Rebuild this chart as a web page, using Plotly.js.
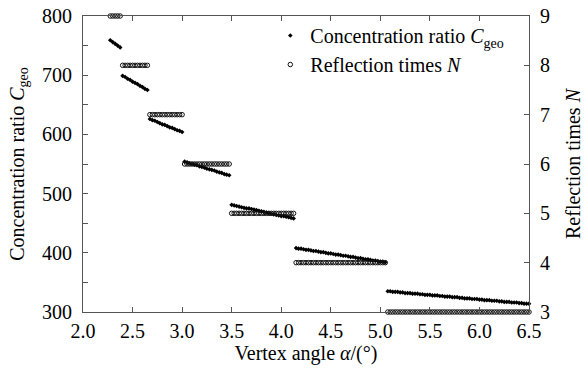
<!DOCTYPE html>
<html>
<head>
<meta charset="utf-8">
<script src="https://cdn.plot.ly/plotly-3.0.1.min.js"></script>
<style>html,body{margin:0;padding:0;background:#fff}#chart{width:585px;height:372px}</style>
</head>
<body>
<div id="chart"></div>
<script>
// Vertex angle alpha (degrees)
const vertexAngle = [
  2.275, 2.3, 2.325, 2.35, 2.375,
  2.4, 2.425, 2.45, 2.475, 2.5, 2.525, 2.55, 2.575, 2.6, 2.625, 2.65,
  2.675, 2.7, 2.725, 2.75, 2.775, 2.8, 2.825, 2.85, 2.875, 2.9, 2.925, 2.95, 2.975, 3.0,
  3.025, 3.05, 3.075, 3.1, 3.125, 3.15, 3.175, 3.2, 3.225, 3.25, 3.275, 3.3, 3.325, 3.35, 3.375, 3.4, 3.425, 3.45, 3.475,
  3.5, 3.525, 3.55, 3.575, 3.6, 3.625, 3.65, 3.675, 3.7, 3.725, 3.75, 3.775, 3.8, 3.825, 3.85, 3.875, 3.9, 3.925, 3.95, 3.975, 4.0, 4.025, 4.05, 4.075, 4.1, 4.125,
  4.15, 4.175, 4.2, 4.225, 4.25, 4.275, 4.3, 4.325, 4.35, 4.375, 4.4, 4.425, 4.45, 4.475, 4.5, 4.525, 4.55, 4.575, 4.6, 4.625, 4.65, 4.675, 4.7, 4.725, 4.75, 4.775, 4.8, 4.825, 4.85, 4.875, 4.9, 4.925, 4.95, 4.975, 5.0, 5.025, 5.05,
  5.075, 5.1, 5.125, 5.15, 5.175, 5.2, 5.225, 5.25, 5.275, 5.3, 5.325, 5.35, 5.375, 5.4, 5.425, 5.45, 5.475, 5.5, 5.525, 5.55, 5.575, 5.6, 5.625, 5.65, 5.675, 5.7, 5.725, 5.75, 5.775, 5.8, 5.825, 5.85, 5.875, 5.9, 5.925, 5.95, 5.975, 6.0, 6.025, 6.05, 6.075, 6.1, 6.125, 6.15, 6.175, 6.2, 6.225, 6.25, 6.275, 6.3, 6.325, 6.35, 6.375, 6.4, 6.425, 6.45, 6.475, 6.5
];
// Concentration ratio C_geo
const concentrationRatio = [
  759, 756, 753, 750, 747,
  699, 697, 694, 692, 689, 687, 685, 682, 680, 677, 675,
  626, 624, 623, 621, 619, 617, 616, 614, 612, 611, 609, 607, 606, 604,
  554, 553, 551, 550, 549, 548, 546, 545, 544, 542, 541, 540, 539, 537, 536, 535, 533, 532, 531,
  481, 480, 479, 478, 477, 476, 475, 475, 474, 473, 472, 471, 470, 469, 468, 467, 466, 465, 464, 463, 462, 462, 461, 460, 459, 458,
  408, 407, 407, 406, 405, 405, 404, 403, 403, 402, 401, 401, 400, 399, 399, 398, 397, 397, 396, 395, 395, 394, 393, 393, 392, 391, 391, 390, 389, 389, 388, 387, 387, 386, 385, 385, 384,
  335, 335, 334, 334, 334, 333, 333, 332, 332, 332, 331, 331, 331, 330, 330, 329, 329, 329, 328, 328, 328, 327, 327, 326, 326, 326, 325, 325, 325, 324, 324, 323, 323, 323, 322, 322, 322, 321, 321, 320, 320, 320, 319, 319, 319, 318, 318, 317, 317, 317, 316, 316, 316, 315, 315, 314, 314, 314
];
// Reflection times N
const reflectionTimes = [
  9, 9, 9, 9, 9,
  8, 8, 8, 8, 8, 8, 8, 8, 8, 8, 8,
  7, 7, 7, 7, 7, 7, 7, 7, 7, 7, 7, 7, 7, 7,
  6, 6, 6, 6, 6, 6, 6, 6, 6, 6, 6, 6, 6, 6, 6, 6, 6, 6, 6,
  5, 5, 5, 5, 5, 5, 5, 5, 5, 5, 5, 5, 5, 5, 5, 5, 5, 5, 5, 5, 5, 5, 5, 5, 5, 5,
  4, 4, 4, 4, 4, 4, 4, 4, 4, 4, 4, 4, 4, 4, 4, 4, 4, 4, 4, 4, 4, 4, 4, 4, 4, 4, 4, 4, 4, 4, 4, 4, 4, 4, 4, 4, 4,
  3, 3, 3, 3, 3, 3, 3, 3, 3, 3, 3, 3, 3, 3, 3, 3, 3, 3, 3, 3, 3, 3, 3, 3, 3, 3, 3, 3, 3, 3, 3, 3, 3, 3, 3, 3, 3, 3, 3, 3, 3, 3, 3, 3, 3, 3, 3, 3, 3, 3, 3, 3, 3, 3, 3, 3, 3, 3
];
const xTicks = [2.0, 2.5, 3.0, 3.5, 4.0, 4.5, 5.0, 5.5, 6.0, 6.5];
const xTickLabels = ['2.0', '2.5', '3.0', '3.5', '4.0', '4.5', '5.0', '5.5', '6.0', '6.5'];

const FONT = '"Liberation Serif", "Times New Roman", Times, serif';
const AX = '#555';

const traces = [
  {
    x: vertexAngle, y: concentrationRatio, type: 'scatter', mode: 'markers',
    name: 'Concentration ratio <i>C</i><sub>geo</sub>',
    marker: {symbol: 'diamond', size: 3.6, color: '#000'},
    cliponaxis: false
  },
  {
    x: vertexAngle, y: reflectionTimes, type: 'scatter', mode: 'markers', yaxis: 'y2',
    name: 'Reflection times <i>N</i>',
    marker: {symbol: 'circle-open', size: 4.5, color: '#111', line: {width: 1, color: '#111'}},
    cliponaxis: false
  }
];

const layout = {
  width: 585, height: 372,
  margin: {l: 83, r: 56, t: 16, b: 60},
  paper_bgcolor: '#fff', plot_bgcolor: '#fff',
  font: {family: FONT, size: 20, color: '#000'},
  showlegend: true,
  legend: {x: 0.42, y: 1.0, xanchor: 'left', yanchor: 'top', bgcolor: 'rgba(0,0,0,0)',
           font: {family: FONT, size: 20, color: '#000'}, tracegroupgap: 0, itemwidth: 30},
  xaxis: {
    range: [2.0, 6.5], tickvals: xTicks, ticktext: xTickLabels,
    ticks: 'inside', ticklen: 5, tickcolor: AX, showline: true, linecolor: AX, linewidth: 1,
    mirror: 'ticks', showgrid: false, zeroline: false, ticklabelstandoff: 1,
    tickfont: {family: FONT, size: 20},
    title: {text: 'Vertex angle <i>α</i>/(°)', font: {family: FONT, size: 20}, standoff: 4}
  },
  yaxis: {
    range: [300, 800], dtick: 100, ticks: 'inside', ticklen: 5, tickcolor: AX,
    minor: {dtick: 50, ticks: 'inside', ticklen: 5, tickcolor: AX},
    showline: true, linecolor: AX, linewidth: 1, showgrid: false, zeroline: false,
    ticklabelstandoff: 6,
    tickfont: {family: FONT, size: 20},
    title: {text: 'Concentration ratio <i>C</i><sub>geo</sub>', font: {family: FONT, size: 20}, standoff: 12}
  },
  yaxis2: {
    range: [3, 9], dtick: 1, overlaying: 'y', side: 'right', ticks: 'inside', ticklen: 5, tickcolor: AX,
    showline: true, linecolor: AX, linewidth: 1, showgrid: false, zeroline: false,
    ticklabelstandoff: 6,
    tickfont: {family: FONT, size: 20},
    title: {text: 'Reflection times <i>N</i>', font: {family: FONT, size: 20}, standoff: 16}
  }
};

Plotly.newPlot('chart', traces, layout, {staticPlot: true, displayModeBar: false});
</script>
</body>
</html>
